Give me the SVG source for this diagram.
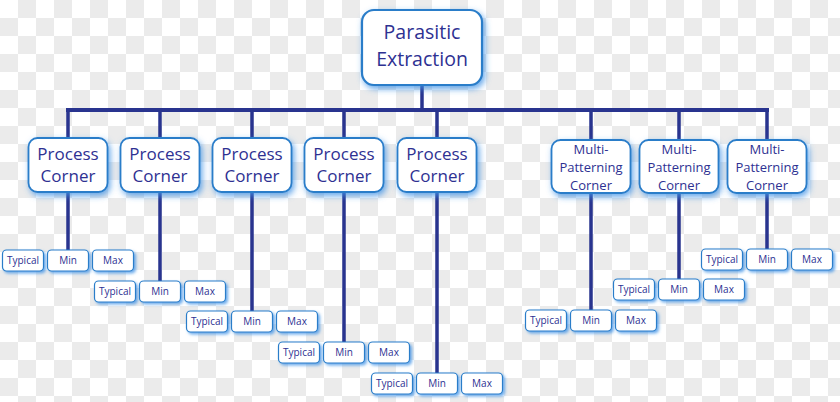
<svg xmlns="http://www.w3.org/2000/svg" width="840" height="402" viewBox="0 0 840 402">
<defs>
<pattern id="checker" x="0" y="0" width="36" height="36" patternUnits="userSpaceOnUse">
<rect width="36" height="36" fill="#ffffff"/>
<rect x="18" y="0" width="18" height="18" fill="#ebebeb"/>
<rect x="0" y="18" width="18" height="18" fill="#ebebeb"/>
</pattern>
<filter id="glow" x="-30%" y="-30%" width="170%" height="180%">
<feGaussianBlur in="SourceAlpha" stdDeviation="3" result="b"/>
<feOffset in="b" dx="2" dy="3" result="o"/>
<feFlood flood-color="#3f92e6" flood-opacity="0.8"/>
<feComposite in2="o" operator="in" result="s"/>
<feMerge><feMergeNode in="s"/><feMergeNode in="SourceGraphic"/></feMerge>
</filter>
<filter id="glowS" x="-30%" y="-40%" width="170%" height="200%">
<feGaussianBlur in="SourceAlpha" stdDeviation="1.8" result="b"/>
<feOffset in="b" dx="1.5" dy="2" result="o"/>
<feFlood flood-color="#3f92e6" flood-opacity="0.75"/>
<feComposite in2="o" operator="in" result="s"/>
<feMerge><feMergeNode in="s"/><feMergeNode in="SourceGraphic"/></feMerge>
</filter>
</defs>
<style>
.box{fill:#ffffff;stroke:#2a7dc9;stroke-width:1.8;filter:url(#glow)}
.leaf{fill:#ffffff;stroke:#2a7dc9;stroke-width:1.2;filter:url(#glowS)}
.t{font-family:"Open Sans","Noto Sans","Liberation Sans",sans-serif;fill:#2e3192;text-anchor:middle}
.main{font-size:19.5px}
.pc{font-size:17px}
.mp{font-size:13px}
.lf{font-size:10px}
.conn{stroke:#29348f;stroke-width:3.5;fill:none}
</style>
<rect width="840" height="402" fill="url(#checker)"/>

<g id="connectors" class="conn">
<path d="M422 85V110"/>
<path d="M66 110H769" stroke-width="4"/>
<path d="M68 110V138M160 110V138M252 110V138M344 110V138M437 110V138"/>
<path d="M591 110V140M679 110V140M767 110V140"/>
<path d="M68 192V250M160 192V281M252 192V311M344 192V342M437 192V373"/>
<path d="M591 193V310M679 193V279M767 193V249"/>
</g>

<g id="parasitic-extraction">
<rect class="box" x="362" y="10" width="120" height="75" rx="12" style="stroke-width:2.2"/>
<text class="t main" x="422" y="39">Parasitic</text>
<text class="t main" x="422" y="66">Extraction</text>
</g>

<g id="pc1"><rect class="box" x="28.5" y="138" width="79" height="54" rx="9"/>
<text class="t pc" x="68" y="160">Process</text><text class="t pc" x="68" y="182">Corner</text></g>
<g id="pc2"><rect class="box" x="120.5" y="138" width="79" height="54" rx="9"/>
<text class="t pc" x="160" y="160">Process</text><text class="t pc" x="160" y="182">Corner</text></g>
<g id="pc3"><rect class="box" x="212.5" y="138" width="79" height="54" rx="9"/>
<text class="t pc" x="252" y="160">Process</text><text class="t pc" x="252" y="182">Corner</text></g>
<g id="pc4"><rect class="box" x="304.5" y="138" width="79" height="54" rx="9"/>
<text class="t pc" x="344" y="160">Process</text><text class="t pc" x="344" y="182">Corner</text></g>
<g id="pc5"><rect class="box" x="397.5" y="138" width="79" height="54" rx="9"/>
<text class="t pc" x="437" y="160">Process</text><text class="t pc" x="437" y="182">Corner</text></g>

<g id="mp1"><rect class="box" x="551.5" y="140" width="79" height="53" rx="9"/>
<text class="t mp" x="591" y="154">Multi-</text><text class="t mp" x="591" y="172">Patterning</text><text class="t mp" x="591" y="190">Corner</text></g>
<g id="mp2"><rect class="box" x="639.5" y="140" width="79" height="53" rx="9"/>
<text class="t mp" x="679" y="154">Multi-</text><text class="t mp" x="679" y="172">Patterning</text><text class="t mp" x="679" y="190">Corner</text></g>
<g id="mp3"><rect class="box" x="727.5" y="140" width="79" height="53" rx="9"/>
<text class="t mp" x="767" y="154">Multi-</text><text class="t mp" x="767" y="172">Patterning</text><text class="t mp" x="767" y="190">Corner</text></g>

<g id="leaves1">
<rect class="leaf" x="2.5" y="250" width="41" height="21" rx="4"/><text class="t lf" x="23" y="264">Typical</text>
<rect class="leaf" x="47.5" y="250" width="41" height="21" rx="4"/><text class="t lf" x="68" y="264">Min</text>
<rect class="leaf" x="92.5" y="250" width="41" height="21" rx="4"/><text class="t lf" x="113" y="264">Max</text>
</g>
<g id="leaves2">
<rect class="leaf" x="94.5" y="281" width="41" height="21" rx="4"/><text class="t lf" x="115" y="295">Typical</text>
<rect class="leaf" x="139.5" y="281" width="41" height="21" rx="4"/><text class="t lf" x="160" y="295">Min</text>
<rect class="leaf" x="184.5" y="281" width="41" height="21" rx="4"/><text class="t lf" x="205" y="295">Max</text>
</g>
<g id="leaves3">
<rect class="leaf" x="186.5" y="311" width="41" height="21" rx="4"/><text class="t lf" x="207" y="325">Typical</text>
<rect class="leaf" x="231.5" y="311" width="41" height="21" rx="4"/><text class="t lf" x="252" y="325">Min</text>
<rect class="leaf" x="276.5" y="311" width="41" height="21" rx="4"/><text class="t lf" x="297" y="325">Max</text>
</g>
<g id="leaves4">
<rect class="leaf" x="278.5" y="342" width="41" height="21" rx="4"/><text class="t lf" x="299" y="356">Typical</text>
<rect class="leaf" x="323.5" y="342" width="41" height="21" rx="4"/><text class="t lf" x="344" y="356">Min</text>
<rect class="leaf" x="368.5" y="342" width="41" height="21" rx="4"/><text class="t lf" x="389" y="356">Max</text>
</g>
<g id="leaves5">
<rect class="leaf" x="371.5" y="373" width="41" height="21" rx="4"/><text class="t lf" x="392" y="387">Typical</text>
<rect class="leaf" x="416.5" y="373" width="41" height="21" rx="4"/><text class="t lf" x="437" y="387">Min</text>
<rect class="leaf" x="461.5" y="373" width="41" height="21" rx="4"/><text class="t lf" x="482" y="387">Max</text>
</g>
<g id="leaves6">
<rect class="leaf" x="525.5" y="310" width="41" height="21" rx="4"/><text class="t lf" x="546" y="324">Typical</text>
<rect class="leaf" x="570.5" y="310" width="41" height="21" rx="4"/><text class="t lf" x="591" y="324">Min</text>
<rect class="leaf" x="615.5" y="310" width="41" height="21" rx="4"/><text class="t lf" x="636" y="324">Max</text>
</g>
<g id="leaves7">
<rect class="leaf" x="613.5" y="279" width="41" height="21" rx="4"/><text class="t lf" x="634" y="293">Typical</text>
<rect class="leaf" x="658.5" y="279" width="41" height="21" rx="4"/><text class="t lf" x="679" y="293">Min</text>
<rect class="leaf" x="703.5" y="279" width="41" height="21" rx="4"/><text class="t lf" x="724" y="293">Max</text>
</g>
<g id="leaves8">
<rect class="leaf" x="701.5" y="249" width="41" height="21" rx="4"/><text class="t lf" x="722" y="263">Typical</text>
<rect class="leaf" x="746.5" y="249" width="41" height="21" rx="4"/><text class="t lf" x="767" y="263">Min</text>
<rect class="leaf" x="791.5" y="249" width="41" height="21" rx="4"/><text class="t lf" x="812" y="263">Max</text>
</g>
</svg>
